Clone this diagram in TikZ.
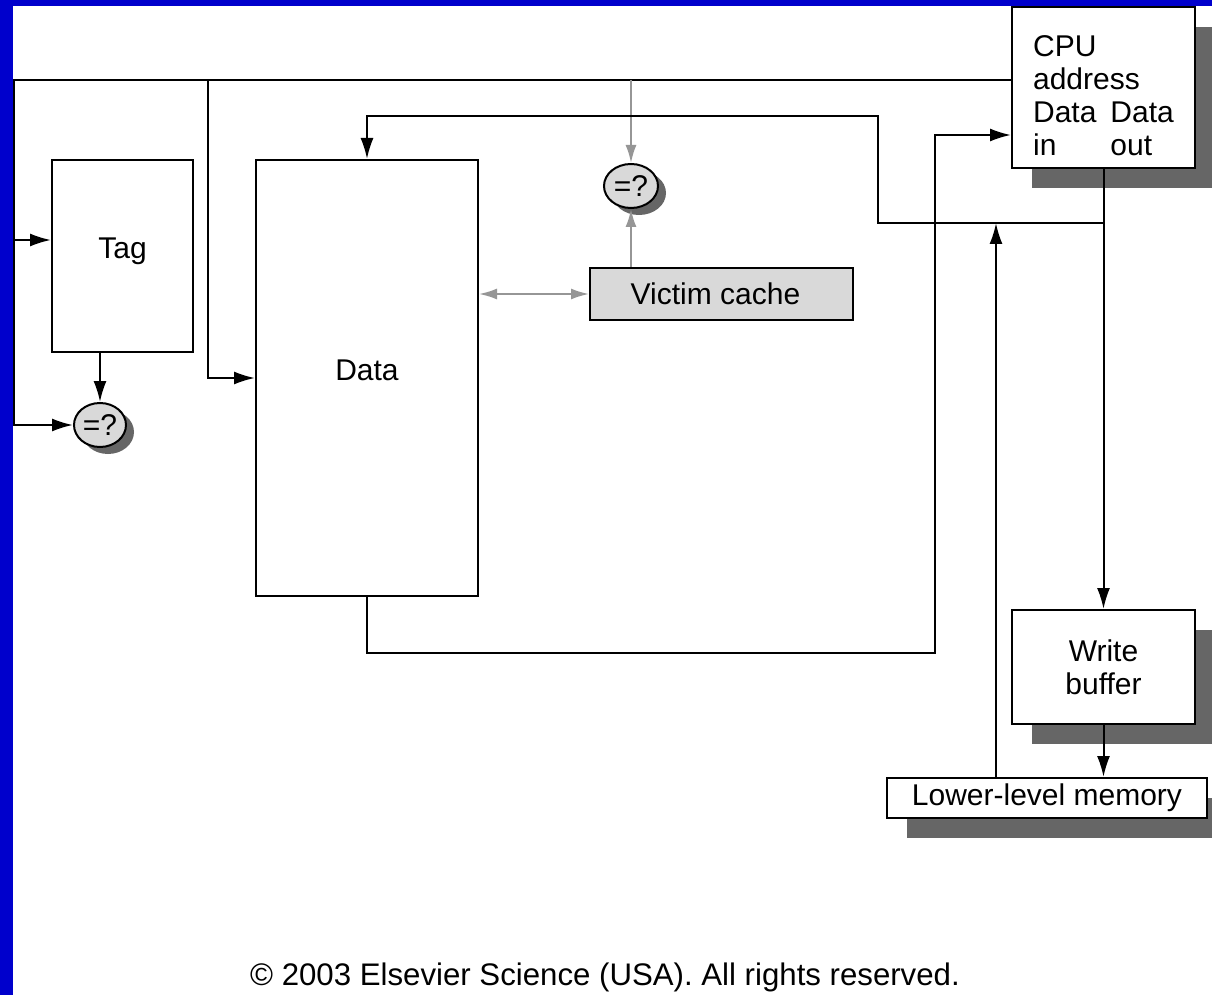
\documentclass[tikz,border=0pt]{standalone}
\usepackage{fontspec}
\setmainfont{Liberation Sans}
\usepackage{tikz}
\usetikzlibrary{arrows.meta,positioning,shapes.geometric,shadows}
\definecolor{slideblue}{RGB}{0,0,204}
\definecolor{shadegray}{RGB}{102,102,102}
\definecolor{lightfill}{RGB}{217,217,217}
\definecolor{linkgray}{RGB}{150,150,150}

\begin{document}
\begin{tikzpicture}[x=0.5pt, y=-0.5pt,
      font=\fontsize{15pt}{16.5pt}\selectfont,
      box/.style={rectangle, draw=black, line width=1pt, fill=white, inner sep=0pt, align=center},
      shade/.style={drop shadow={shadow xshift=10pt, shadow yshift=-10pt, fill=shadegray, opacity=1}},
      cmp/.style={ellipse, draw=black, line width=1pt, fill=lightfill, inner sep=0pt,
                  minimum width=26pt, minimum height=22pt,
                  drop shadow={shadow xshift=4pt, shadow yshift=-3.5pt, fill=shadegray, opacity=1}},
      wire/.style={line width=1pt},
      arr/.style={wire, -{Latex[length=10.5pt,width=6.5pt]}},
      grayarr/.style={line width=1pt, draw=linkgray, -{Latex[length=9pt,width=5.5pt]}}
    ]
    \useasboundingbox (0,0) rectangle (1212,995);
    \fill[slideblue] (0,0) rectangle (1212,995);
    \fill[white] (13,6) rectangle (1212,995);

    \node[box, minimum width=70.5pt, minimum height=96pt] (tag) at (122.5,256) {Tag\rule[-8pt]{0pt}{1pt}};
    \node[box, minimum width=111pt, minimum height=218pt] (data) at (367,378) {Data\rule[-8pt]{0pt}{1pt}};
    \node[box, fill=lightfill, minimum width=131.5pt, minimum height=26pt] (victim) at (721.5,294) {Victim cache\hspace{6pt}};
    \node[box, shade, minimum width=91.5pt, minimum height=80.5pt] (cpu) at (1103.5,87.5)
      {\begin{tabular}{@{}l@{\hspace{7pt}}l@{}}
         \multicolumn{2}{@{}l@{}}{\rule{0pt}{23.5pt}CPU}\\
         \multicolumn{2}{@{}l@{}}{address}\\
         Data & Data\\
         in & out
       \end{tabular}};
    \node[box, shade, minimum width=91.5pt, minimum height=57pt] (wbuf) at (1103.5,667) {Write\\buffer};
    \node[box, shade, minimum width=160pt, minimum height=20pt] (mem) at (1047,798) {Lower-level memory};
    \node[cmp] (cmp1) at (100,425) {=?};
    \node[cmp, minimum width=27pt] (cmp2) at (631,186) {=?};
    \node[font=\fontsize{15.6pt}{17pt}\selectfont] (copy) at (605,977) {© 2003 Elsevier Science (USA). All rights reserved.};

    \coordinate (busL) at (14,80);
    \coordinate (tagin) at (14,240);
    \coordinate (idx) at (208,80);
    \coordinate (fillturn) at (878,116);
    \coordinate (outturn) at (935,653);
    \coordinate (memup) at (996,223);

    \draw[arr] (cpu.west |- busL) -- (busL) |- (cmp1.west);
    \draw[arr] (tagin) -- (tagin -| tag.west);
    \draw[arr] (cmp1 |- tag.south) -- (cmp1.north);
    \draw[arr] (idx) |- (data.west);
    \draw[grayarr] (cmp2 |- busL) -- (cmp2.north);
    \draw[grayarr] (victim.north -| cmp2) -- (cmp2.south);
    \draw[grayarr, {Latex[length=9pt,width=5.5pt]}-{Latex[length=9pt,width=5.5pt]}] (data.east |- victim.west) -- (victim.west);
    \draw[arr] (cpu.south) -- (wbuf.north);
    \draw[arr] (cpu.south |- memup) -| (fillturn) -| (data.north);
    \draw[arr] (data.south) |- (outturn) |- (cpu.west |- 0,135);
    \draw[arr] (mem.north -| memup) -- (memup);
    \draw[arr] (wbuf.south) -- (mem.north -| wbuf.south);
  \end{tikzpicture}
\end{document}
